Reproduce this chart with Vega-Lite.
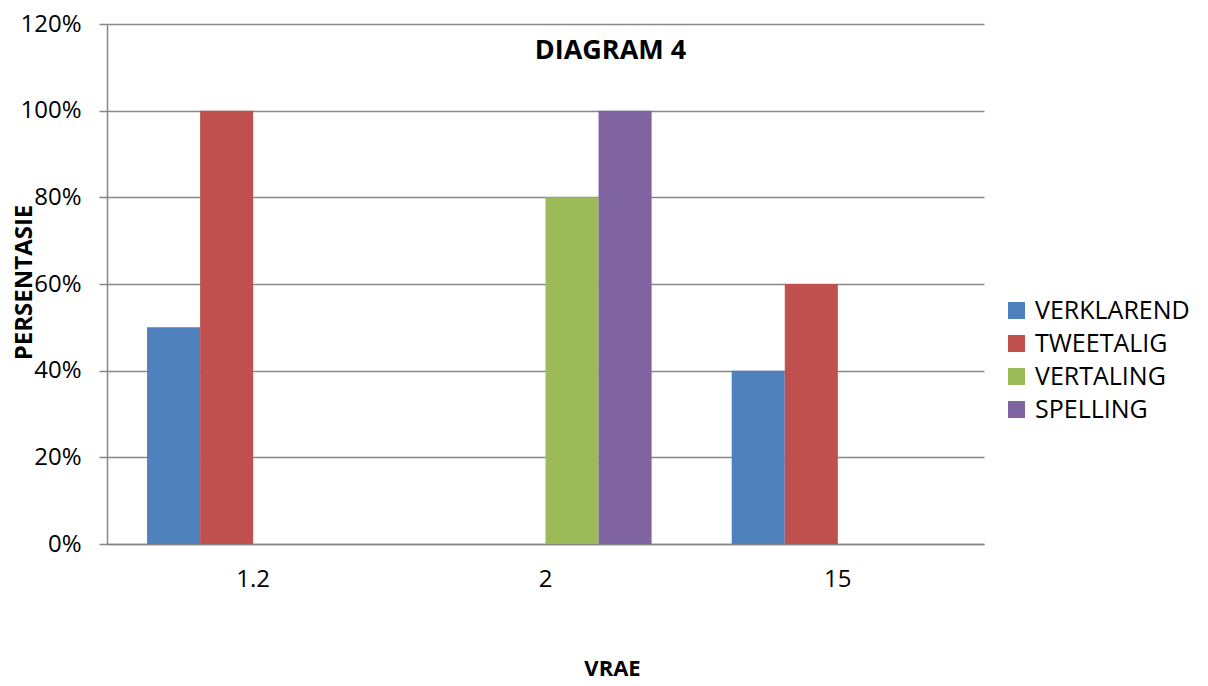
{
  "$schema": "https://vega.github.io/schema/vega-lite/v6.json",
  "width": 877,
  "height": 520,
  "autosize": {"type": "none"},
  "padding": {"left": 107, "top": 24, "right": 224, "bottom": 142},
  "background": "white",
  "data": {
    "values": [
      {"vraag": "1.2", "tipe": "VERKLAREND", "waarde": 0.5},
      {"vraag": "1.2", "tipe": "TWEETALIG", "waarde": 1.0},
      {"vraag": "1.2", "tipe": "VERTALING", "waarde": 0},
      {"vraag": "1.2", "tipe": "SPELLING", "waarde": 0},
      {"vraag": "2", "tipe": "VERKLAREND", "waarde": 0},
      {"vraag": "2", "tipe": "TWEETALIG", "waarde": 0},
      {"vraag": "2", "tipe": "VERTALING", "waarde": 0.8},
      {"vraag": "2", "tipe": "SPELLING", "waarde": 1.0},
      {"vraag": "15", "tipe": "VERKLAREND", "waarde": 0.4},
      {"vraag": "15", "tipe": "TWEETALIG", "waarde": 0.6},
      {"vraag": "15", "tipe": "VERTALING", "waarde": 0},
      {"vraag": "15", "tipe": "SPELLING", "waarde": 0}
    ]
  },
  "layer": [
    {
      "mark": {"type": "bar"},
      "encoding": {
        "x": {
          "field": "vraag",
          "type": "nominal",
          "sort": ["1.2", "2", "15"],
          "scale": {"domain": ["1.2", "2", "15"], "paddingInner": 0.274, "paddingOuter": 0.137},
          "axis": {
            "title": "VRAE",
            "labelAngle": 0,
            "labelFont": "Open Sans",
            "labelFontSize": 24,
            "labelColor": "black",
            "labelPadding": 23,
            "labelBaseline": "top",
            "ticks": false,
            "tickSize": 0,
            "domainColor": "#878787",
            "domainWidth": 1.5,
            "titleFont": "Open Sans",
            "titleFontSize": 22,
            "titleFontWeight": "bold",
            "titleColor": "black",
            "titleX": 505,
            "titleY": 124,
            "titleBaseline": "middle",
            "titleAnchor": "middle"
          }
        },
        "xOffset": {
          "field": "tipe",
          "type": "nominal",
          "sort": ["VERKLAREND", "TWEETALIG", "VERTALING", "SPELLING"],
          "scale": {"paddingInner": 0, "paddingOuter": 0}
        },
        "y": {
          "field": "waarde",
          "type": "quantitative",
          "scale": {"domain": [0, 1.2], "nice": false},
          "axis": {
            "title": "PERSENTASIE",
            "values": [0, 0.2, 0.4, 0.6, 0.8, 1.0, 1.2],
            "format": ".0%",
            "labelFont": "Open Sans",
            "labelFontSize": 24,
            "labelColor": "black",
            "labelPadding": 18,
            "tickSize": 8,
            "tickColor": "#878787",
            "tickWidth": 1.5,
            "domainColor": "#878787",
            "domainWidth": 1.5,
            "gridColor": "#878787",
            "gridWidth": 1.5,
            "grid": true,
            "titleFont": "Open Sans",
            "titleFontSize": 24,
            "titleFontWeight": "bold",
            "titleColor": "black",
            "titleX": -71,
            "titleY": 258,
            "titleAngle": -90,
            "titleBaseline": "bottom",
            "titleAnchor": "middle"
          }
        },
        "color": {
          "field": "tipe",
          "type": "nominal",
          "sort": ["VERKLAREND", "TWEETALIG", "VERTALING", "SPELLING"],
          "scale": {
            "domain": ["VERKLAREND", "TWEETALIG", "VERTALING", "SPELLING"],
            "range": ["#4F81BD", "#C0504D", "#9BBB59", "#8064A2"]
          },
          "legend": {
            "title": null,
            "orient": "none",
            "legendX": 897,
            "legendY": 274,
            "symbolType": "square",
            "symbolSize": 289,
            "symbolStrokeWidth": 0,
            "labelFont": "Open Sans",
            "labelFontSize": 25,
            "labelColor": "black",
            "labelOffset": 6,
            "rowPadding": 7
          }
        }
      }
    },
    {
      "data": {"values": [{"titel": "DIAGRAM 4"}]},
      "mark": {
        "type": "text",
        "font": "Open Sans",
        "fontSize": 27,
        "fontWeight": "bold",
        "color": "black",
        "align": "center",
        "baseline": "middle",
        "dx": 65
      },
      "encoding": {
        "x": {"datum": "2"},
        "y": {"datum": 1.138},
        "text": {"field": "titel", "type": "nominal"}
      }
    }
  ],
  "config": {
    "view": {"stroke": null}
  }
}
